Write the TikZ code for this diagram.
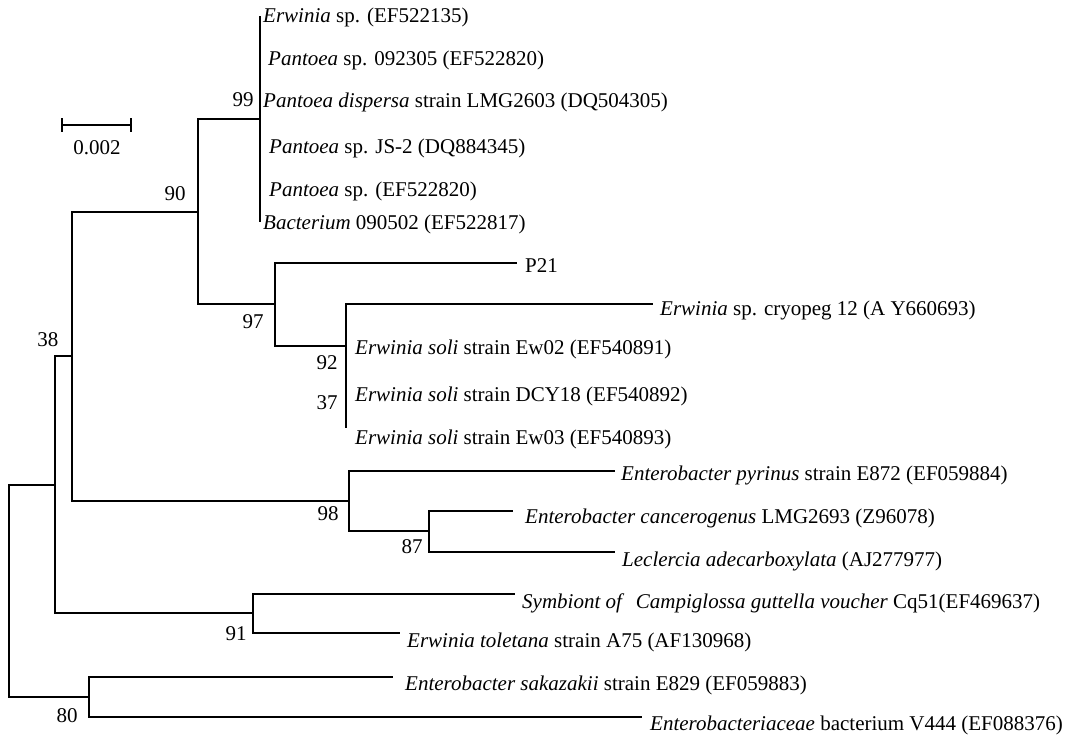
\documentclass[tikz,border=0pt]{standalone}
\usepackage{fontspec}
\setmainfont{Liberation Serif}
\usepackage{tikz}
\usetikzlibrary{positioning}

\tikzset{
    branch/.style={line width=2.4pt},
    taxon/.style={anchor=base west, inner sep=0pt, font=\fontsize{21}{25}\selectfont},
    boot/.style={inner sep=0pt, font=\fontsize{21}{25}\selectfont},
}

\begin{document}
\begin{tikzpicture}[x=1pt, y=-1pt]
    \useasboundingbox (0,0) rectangle (1072,736);

    % internal nodes of the tree
    \coordinate (root) at (9,591);
    \coordinate (nA) at (55,485);
    \coordinate (n38) at (72,356);
    \coordinate (n90) at (198,212);
    \coordinate (n99) at (260,119);
    \coordinate (n97) at (275,304);
    \coordinate (n92) at (346,346);
    \coordinate (n98) at (349,501);
    \coordinate (n87) at (429,531);
    \coordinate (n91) at (253,613);
    \coordinate (n80) at (89,697);

    % tips
    \coordinate (tErw) at (260,16);
    \coordinate (tPan1) at (260,58);
    \coordinate (tPan2) at (260,100);
    \coordinate (tPan3) at (260,146);
    \coordinate (tPan4) at (260,189);
    \coordinate (tBac) at (260,222);
    \coordinate (tP21) at (517,263);
    \coordinate (tCryo) at (653,304);
    \coordinate (tEw02) at (346,346);
    \coordinate (tDcy) at (346,394);
    \coordinate (tEw03) at (346,428);
    \coordinate (tPyr) at (615,471);
    \coordinate (tCan) at (513,511);
    \coordinate (tLec) at (615,552);
    \coordinate (tSym) at (515,594);
    \coordinate (tTol) at (400,633);
    \coordinate (tSak) at (393,677);
    \coordinate (tEnt) at (642,717);

    % branches
    \draw[branch] (root) |- (nA) (root) |- (n80);
    \draw[branch] (nA) |- (n38) (nA) |- (n91);
    \draw[branch] (n38) |- (n90) (n38) |- (n98);
    \draw[branch] (n90) |- (n99) (n90) |- (n97);
    \draw[branch] (n99) -- (tErw) (n99) -- (tBac);
    \draw[branch] (n97) |- (tP21) (n97) |- (n92);
    \draw[branch] (n92) |- (tCryo) (n92) -- (tEw03);
    \draw[branch] (n98) |- (tPyr) (n98) |- (n87);
    \draw[branch] (n87) |- (tCan) (n87) |- (tLec);
    \draw[branch] (n91) |- (tSym) (n91) |- (tTol);
    \draw[branch] (n80) |- (tSak) (n80) |- (tEnt);

    % taxa
    \node[taxon] (lErw) at ([xshift=3pt,yshift=-7pt]tErw) {\textit{Erwinia} sp. (EF522135)};
    \node[taxon] (lPan1) at ([xshift=8pt,yshift=-7pt]tPan1) {\textit{Pantoea} sp. 092305 (EF522820)};
    \node[taxon] (lPan2) at ([xshift=3pt,yshift=-7pt]tPan2) {\textit{Pantoea dispersa} strain LMG2603 (DQ504305)};
    \node[taxon] (lPan3) at ([xshift=9pt,yshift=-7pt]tPan3) {\textit{Pantoea} sp. JS-2 (DQ884345)};
    \node[taxon] (lPan4) at ([xshift=9pt,yshift=-7pt]tPan4) {\textit{Pantoea} sp. (EF522820)};
    \node[taxon] (lBac) at ([xshift=3pt,yshift=-7pt]tBac) {\textit{Bacterium} 090502 (EF522817)};
    \node[taxon] (lP21) at ([xshift=8pt,yshift=-9pt]tP21) {P21};
    \node[taxon] (lCryo) at ([xshift=7pt,yshift=-11pt]tCryo) {\textit{Erwinia} sp. cryopeg 12 (A Y660693)};
    \node[taxon] (lEw02) at ([xshift=9pt,yshift=-8pt]tEw02) {\textit{Erwinia soli} strain Ew02 (EF540891)};
    \node[taxon] (lDcy) at ([xshift=9pt,yshift=-7pt]tDcy) {\textit{Erwinia soli} strain DCY18 (EF540892)};
    \node[taxon] (lEw03) at ([xshift=9pt,yshift=-16pt]tEw03) {\textit{Erwinia soli} strain Ew03 (EF540893)};
    \node[taxon] (lPyr) at ([xshift=6pt,yshift=-9pt]tPyr) {\textit{Enterobacter pyrinus} strain E872 (EF059884)};
    \node[taxon] (lCan) at ([xshift=12pt,yshift=-12pt]tCan) {\textit{Enterobacter cancerogenus} LMG2693 (Z96078)};
    \node[taxon] (lLec) at ([xshift=7pt,yshift=-14pt]tLec) {\textit{Leclercia adecarboxylata} (AJ277977)};
    \node[taxon] (lSym) at ([xshift=7pt,yshift=-14pt]tSym) {\textit{Symbiont of}\hspace{0.55em}\textit{Campiglossa guttella voucher} Cq51(EF469637)};
    \node[taxon] (lTol) at ([xshift=7pt,yshift=-14pt]tTol) {\textit{Erwinia toletana} strain A75 (AF130968)};
    \node[taxon] (lSak) at ([xshift=12pt,yshift=-13pt]tSak) {\textit{Enterobacter sakazakii} strain E829 (EF059883)};
    \node[taxon] (lEnt) at ([xshift=8pt,yshift=-13pt]tEnt) {\textit{Enterobacteriaceae} bacterium V444 (EF088376)};

    % bootstrap values
    \node[boot] (b99) at (243,100) {99};
    \node[boot] (b90) at (175,194) {90};
    \node[boot] (b97) at (253,322) {97};
    \node[boot] (b92) at (327,363) {92};
    \node[boot] (b37) at (327,403) {37};
    \node[boot] (b38) at (48,340) {38};
    \node[boot] (b98) at (328,514) {98};
    \node[boot] (b87) at (412,547) {87};
    \node[boot] (b91) at (236,634) {91};
    \node[boot] (b80) at (67,716) {80};

    % scale bar
    \coordinate (sbL) at (62,125);
    \coordinate (sbR) at (131,125);
    \draw[branch] (sbL) -- (sbR);
    \draw[branch] ([yshift=7pt]sbL) -- ([yshift=-7pt]sbL);
    \draw[branch] ([yshift=7pt]sbR) -- ([yshift=-7pt]sbR);
    \node[boot] (sbtext) at (97,148) {0.002};
\end{tikzpicture}
\end{document}
